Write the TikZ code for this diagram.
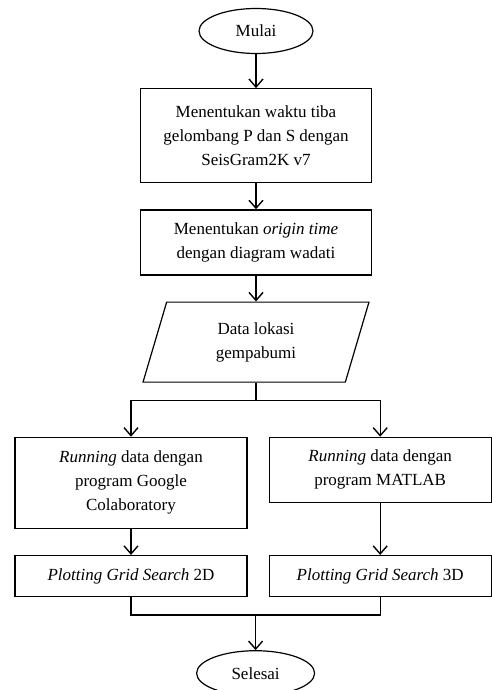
\documentclass[tikz,border=0pt]{standalone}
\usepackage{fontspec}
\setmainfont{Liberation Serif}
\usetikzlibrary{positioning}
\usetikzlibrary{calc,arrows.meta,shapes.geometric}

\begin{document}
\begin{tikzpicture}[
            terminalnode/.style={ellipse, draw=black, line width=1.2pt, minimum width=114pt, minimum height=45pt, inner sep=0pt},
            processnode/.style={rectangle, draw=black, line width=1.2pt, align=center, inner sep=2pt},
            datanode/.style={trapezium, trapezium left angle=76, trapezium right angle=104, trapezium stretches=true, draw=black, line width=1.2pt, align=center, minimum width=226pt, minimum height=80pt},
            flowline/.style={line width=1.4pt},
            flowarrow/.style={line width=1.4pt, -{Straight Barb[length=8pt,width=14pt,line width=1.4pt]}},
            font=\fontsize{17}{24}\selectfont,
        ]
            \useasboundingbox (0,0) rectangle (492pt,-690pt);
            % Nodes
            \node[terminalnode] (mulai) at (256pt,-31pt) {Mulai};
            \node[processnode, below=34pt of mulai, minimum width=231pt, minimum height=94pt] (tiba) {Menentukan waktu tiba\\gelombang P dan S dengan\\SeisGram2K v7};
            \node[processnode, below=26pt of tiba, minimum width=231pt, minimum height=65pt] (wadati) {Menentukan \textit{origin time}\\dengan diagram wadati};
            \node[datanode, below=26pt of wadati] (lokasi) {Data lokasi\\gempabumi};
            \node[processnode, below=54pt of lokasi, xshift=-125pt, minimum width=232pt, minimum height=91pt] (colab) {\textit{Running} data dengan\\program Google\\Colaboratory};
            \node[processnode, right=21pt of colab.north east, anchor=north west, minimum width=222pt, minimum height=65pt] (matlab) {\textit{Running} data dengan\\program MATLAB};
            \node[processnode, below=26pt of colab, minimum width=232pt, minimum height=41pt] (grid2d) {\textit{Plotting Grid Search} 2D};
            \node[processnode, right=21pt of grid2d, minimum width=222pt, minimum height=41pt] (grid3d) {\textit{Plotting Grid Search} 3D};
            \coordinate[below=18pt of lokasi.south] (pisah);
            \coordinate[below=18pt of grid2d.south] (gabung);
            \coordinate (tengah) at ($(gabung)!0.5!(gabung -| grid3d.south)$);
            \node[terminalnode, below=35pt of tengah, anchor=north, minimum width=118pt] (selesai) {Selesai};
%
%            % Lines
            \draw[flowarrow] (mulai.south) -- (tiba.north);
            \draw[flowarrow] (tiba.south) -- (wadati.north);
            \draw[flowarrow] (wadati.south) -- (lokasi.north -| wadati.south);
            \draw[flowline] (lokasi.south -| pisah) -- (pisah);
            \draw[flowarrow] (pisah) -| (colab.north);
            \draw[flowarrow] (pisah) -| (matlab.north);
            \draw[flowarrow] (colab.south) -- (grid2d.north);
            \draw[flowarrow] (matlab.south) -- (grid3d.north);
            \draw[flowline] (grid2d.south) |- (gabung) -| (grid3d.south);
            \draw[flowarrow] (tengah) -- (selesai.north);
        \end{tikzpicture}
\end{document}
